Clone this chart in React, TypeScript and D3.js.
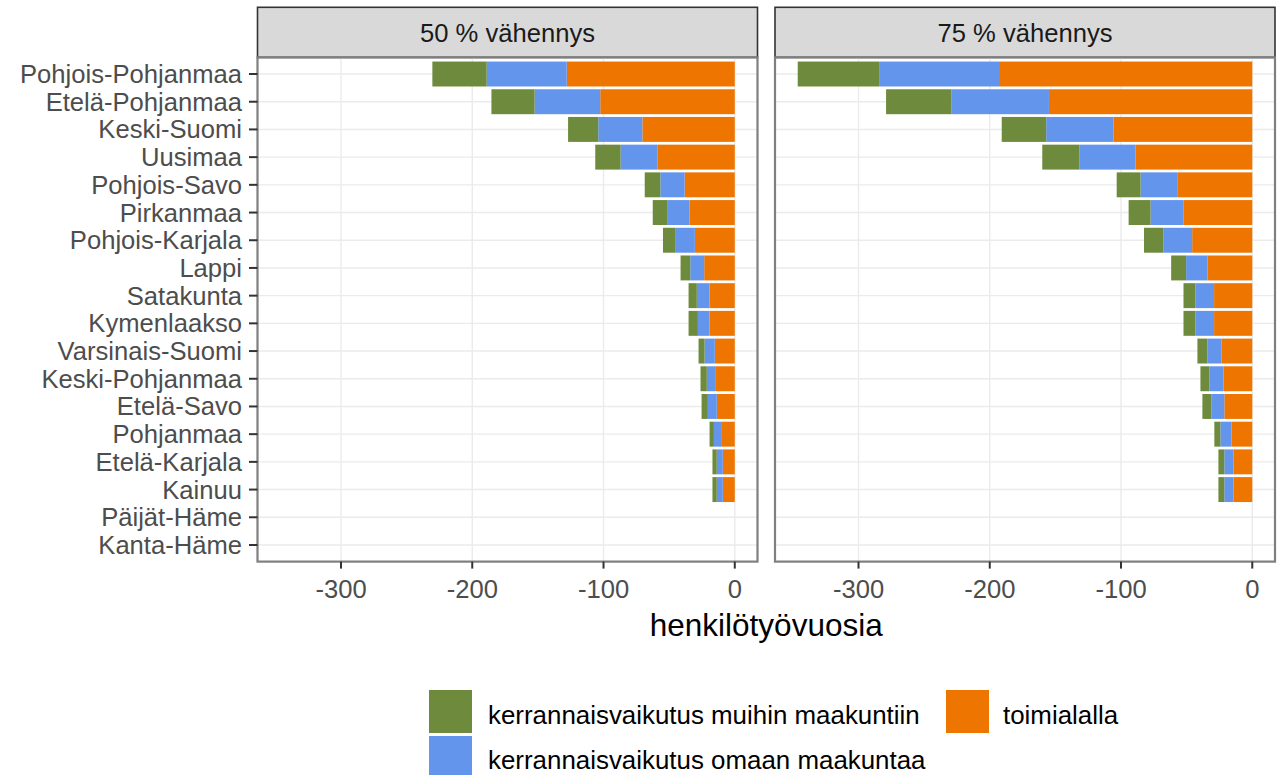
import React from 'react';
import * as d3 from 'd3';

const categories = [
  'Pohjois-Pohjanmaa', 'Etelä-Pohjanmaa', 'Keski-Suomi', 'Uusimaa', 'Pohjois-Savo',
  'Pirkanmaa', 'Pohjois-Karjala', 'Lappi', 'Satakunta', 'Kymenlaakso',
  'Varsinais-Suomi', 'Keski-Pohjanmaa', 'Etelä-Savo', 'Pohjanmaa', 'Etelä-Karjala',
  'Kainuu', 'Päijät-Häme', 'Kanta-Häme',
];

const facets = ['50 % vähennys', '75 % vähennys'];

// 50 % vähennys
const toimiala50 = [128, 102.5, 70.4, 58.7, 38.2, 34.4, 30.4, 23.3, 19.2, 19.2, 15.2, 14.4, 13.7, 10.4, 9.1, 9.1, 0, 0];
const omaan50 = [61, 50, 33.6, 28.3, 18.5, 16.7, 14.6, 10.6, 9.7, 8.9, 7.8, 6.9, 6.8, 5.5, 4.6, 4.6, 0, 0];
const muihin50 = [41.4, 32.9, 23, 19.3, 11.9, 11.4, 9.7, 7.4, 6.3, 7.1, 4.6, 4.8, 4.8, 3.3, 3.3, 3.3, 0, 0];

// 75 % vähennys
const toimiala75 = [192.2, 154.9, 105.6, 88.9, 57.2, 52.2, 45.8, 34.2, 29.1, 29.1, 23.3, 21.8, 21.3, 15.9, 14.2, 14.2, 0, 0];
const omaan75 = [92.1, 74.2, 51.4, 42.7, 27.9, 25.3, 22, 16.2, 14.2, 14.2, 10.9, 10.9, 9.8, 8.4, 7.1, 7.1, 0, 0];
const muihin75 = [62, 49.9, 33.9, 28.4, 18.2, 16.7, 14.7, 11.4, 9.1, 9.1, 7.6, 6.8, 6.9, 4.6, 4.5, 4.5, 0, 0];

const xTicks = [-300, -200, -100, 0];

const keys = ['toimialalla', 'omaan', 'muihin'];
const legendLabels: Record<string, string> = {
  muihin: 'kerrannaisvaikutus muihin maakuntiin',
  omaan: 'kerrannaisvaikutus omaan maakuntaa',
  toimialalla: 'toimialalla',
};
const colors: Record<string, string> = {
  toimialalla: '#EE7600',
  omaan: '#6495ED',
  muihin: '#6E8B3D',
};

const font = "'Liberation Sans', Arial, sans-serif";

function App() {
  const seriesData = [
    [toimiala50, omaan50, muihin50],
    [toimiala75, omaan75, muihin75],
  ];
  const tables = seriesData.map(([t, o, m]) =>
    categories.map((c, i) => ({ cat: c, toimialalla: -t[i], omaan: -o[i], muihin: -m[i] }))
  );

  const stack = d3.stack<any>().keys(keys).offset(d3.stackOffsetDiverging);
  const stacks = tables.map(t => stack(t));

  const minTotal = d3.min(tables.flat(), d => d.toimialalla + d.omaan + d.muihin) as number;
  const span = 0 - minTotal;
  const panelW = 500;
  const x = d3.scaleLinear()
    .domain([minTotal - span * 0.05, span * 0.05])
    .range([0, panelW]);

  const panelTop = 57.4;
  const panelBottom = 561.6;
  const y = d3.scalePoint<string>().domain(categories).range([panelTop, panelBottom]).padding(0.6);
  const barH = y.step() * 0.9;

  const panelX = [257.5, 775];

  return (
    <svg width={1287} height={775} style={{ position: 'absolute', left: 0, top: 0, background: '#fff' }}
      fontFamily={font}>
      {facets.map((f, fi) => {
        const px = panelX[fi];
        return (
          <g key={f} transform={`translate(${px},0)`}>
            {/* strip */}
            <rect x={0} y={7.3} width={panelW} height={panelTop - 7.3} fill="#D9D9D9" stroke="#333333" strokeWidth={1.6} />
            <text x={panelW / 2} y={41.5} textAnchor="middle" fontSize={25.6} fill="#1A1A1A">{f}</text>
            {/* grid */}
            {xTicks.map(t => (
              <line key={t} x1={x(t)} x2={x(t)} y1={panelTop} y2={panelBottom} stroke="#EBEBEB" strokeWidth={1.4} />
            ))}
            {categories.map(c => (
              <line key={c} x1={0} x2={panelW} y1={y(c)} y2={y(c)} stroke="#EBEBEB" strokeWidth={1.4} />
            ))}
            {/* bars */}
            {stacks[fi].map(s => (
              <g key={s.key} fill={colors[s.key]}>
                {s.map(d => {
                  const x0 = x(Math.min(d[0], d[1]));
                  const x1 = x(Math.max(d[0], d[1]));
                  return (
                    <rect key={d.data.cat}
                      x={x0} width={x1 - x0}
                      y={(y(d.data.cat) as number) - barH / 2} height={barH} />
                  );
                })}
              </g>
            ))}
            {/* border */}
            <rect x={0} y={panelTop} width={panelW} height={panelBottom - panelTop} fill="none" stroke="#7F7F7F" strokeWidth={2.2} />
            {/* x axis */}
            {xTicks.map(t => (
              <g key={t} transform={`translate(${x(t)},0)`}>
                <line y1={panelBottom} y2={panelBottom + 7} stroke="#333333" strokeWidth={2} />
                <text y={598} textAnchor="middle" fontSize={25.6} fill="#4D4D4D">{t === 0 ? '0' : `-${-t}`}</text>
              </g>
            ))}
          </g>
        );
      })}
      {/* y axis */}
      {categories.map(c => (
        <g key={c} transform={`translate(0,${y(c)})`}>
          <line x1={249} x2={257.5} stroke="#333333" strokeWidth={2} />
          <text x={242} dy="0.35em" textAnchor="end" fontSize={25.6} fill="#4D4D4D">{c}</text>
        </g>
      ))}
      <text x={(panelX[0] + panelX[1] + panelW) / 2} y={636} textAnchor="middle" fontSize={31.5} fill="#000">henkilötyövuosia</text>
      {/* legend */}
      <g>
        <rect x={429} y={690} width={43} height={43} fill={colors.muihin} />
        <text x={488} y={724} fontSize={25.9} fill="#000">{legendLabels.muihin}</text>
        <rect x={429} y={736} width={43} height={43} fill={colors.omaan} />
        <text x={488} y={769} fontSize={25.9} fill="#000">{legendLabels.omaan}</text>
        <rect x={946} y={690} width={43} height={43} fill={colors.toimialalla} />
        <text x={1003} y={724} fontSize={25.9} fill="#000">{legendLabels.toimialalla}</text>
      </g>
    </svg>
  );
}

export default App;
